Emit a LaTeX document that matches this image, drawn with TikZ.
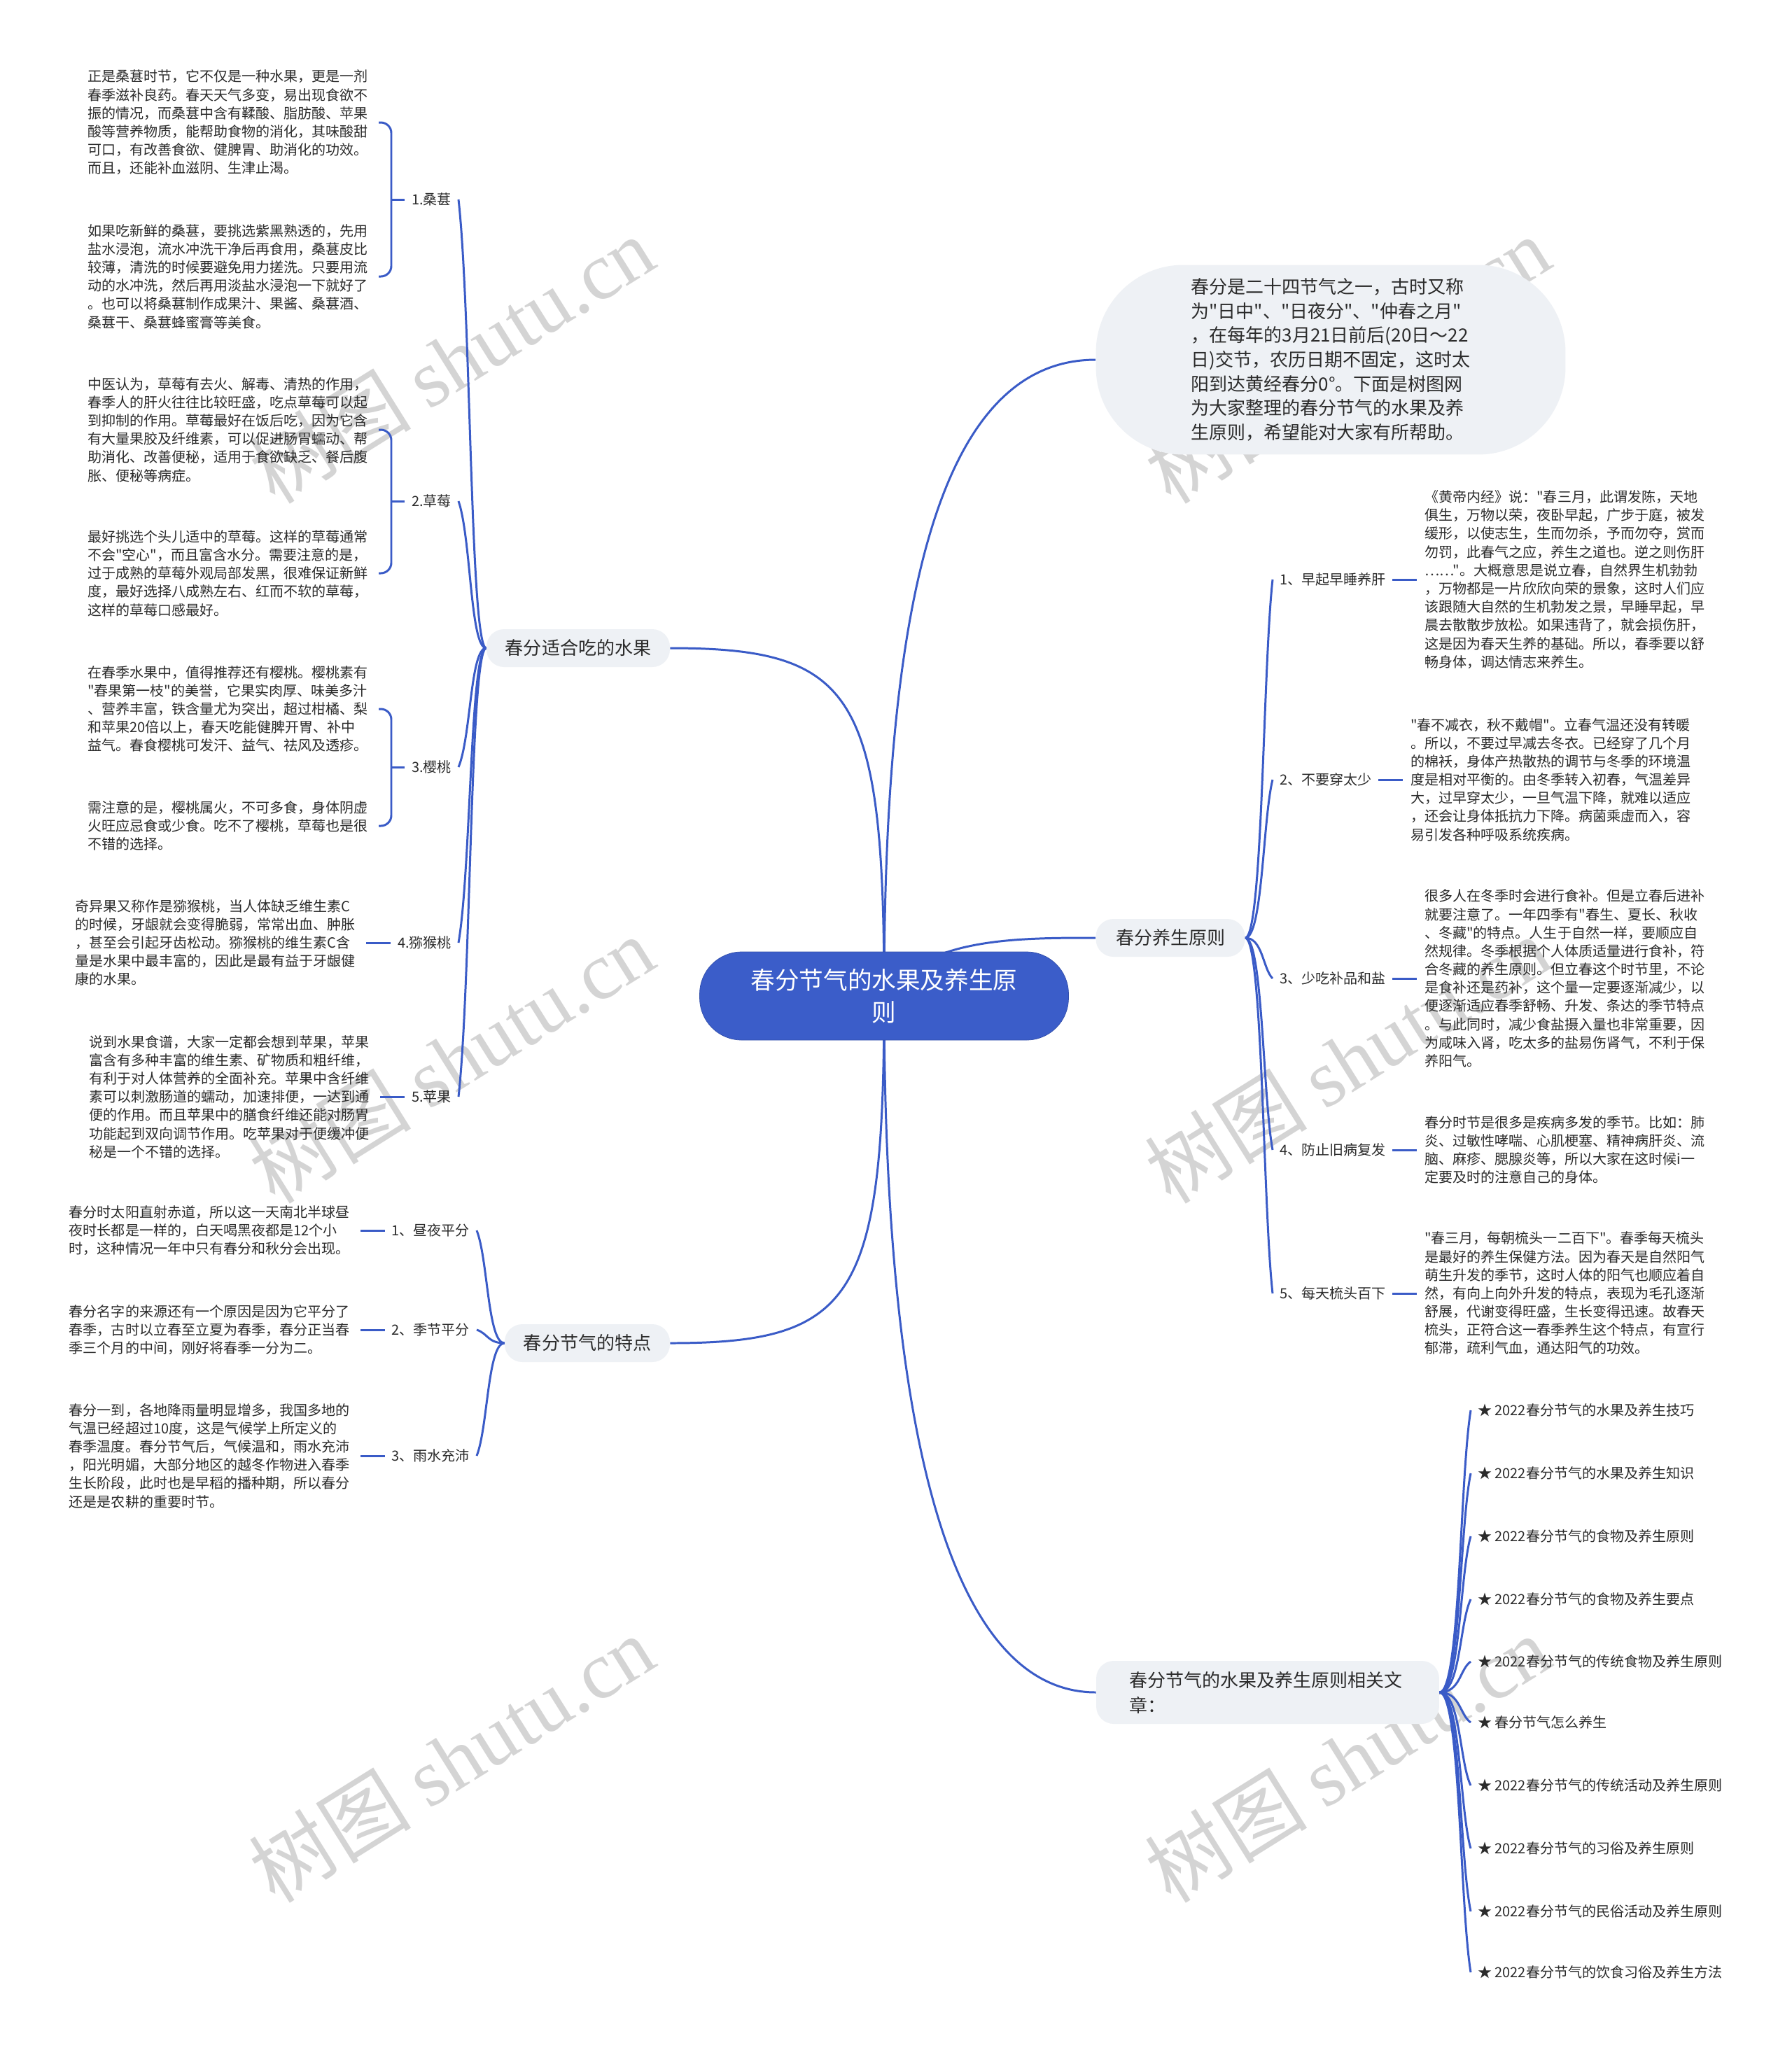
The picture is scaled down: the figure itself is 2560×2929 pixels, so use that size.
\documentclass[tikz,border=0pt]{standalone}
\usepackage{fontspec}
\setmainfont{Noto Sans CJK SC}[Ligatures=TeXOff]
\newfontfamily\wmfont{Liberation Serif}
\usetikzlibrary{positioning,backgrounds}
\definecolor{hubblue}{HTML}{3B5DC9}
\definecolor{linkblue}{HTML}{3A5BC7}
\definecolor{bubble}{HTML}{EEF1F5}
\definecolor{ink}{HTML}{2B2B2B}
\definecolor{wmgray}{HTML}{D4D4D4}
\newcommand{\setfs}[2]{\fontsize{#1}{#2}\selectfont}

\begin{document}
\begin{tikzpicture}[x=0.02cm,y=-0.02cm,
    hub/.style={fill=hubblue,draw=hubblue!85!black,text=white,rounded corners=1.2cm,minimum width=10.54cm,minimum height=2.52cm,align=center,font=\setfs{19.7pt}{26.5pt}},
    branch/.style={fill=bubble,text=ink,rounded corners=0.5cm,minimum height=1.08cm,font=\setfs{14.8pt}{20.5pt}},
    leaf/.style={text=ink,inner sep=5.5pt,font=\setfs{11.4pt}{14.9pt}},
    txt/.style={text=ink,inner sep=6pt,align=left,text width=8.1cm,font=\setfs{11.4pt}{14.9pt}},
    link/.style={draw=linkblue,line width=1.7pt},
    brace/.style={link,rounded corners=0.3cm},
    hook/.style n args={3}{to path={.. controls +(#1,0) and +(#2,#3) .. (\tikztotarget)}},
    wm/.style={text=wmgray,rotate=32,font=\setfs{66pt}{66pt}}]
\useasboundingbox (0,0) rectangle (2560,2929);

\node[hub] (hub) at (1263,1423) {春分节气的水果及养生原\\则};
\node[branch,minimum width=13.42cm,minimum height=5.42cm,rounded corners=2.5cm,align=left,font=\setfs{14.8pt}{19.7pt}] (intro) at (1901,514) {春分是二十四节气之一，古时又称\\为"日中"、"日夜分"、"仲春之月"\\，在每年的3月21日前后(20日～22\\日)交节，农历日期不固定，这时太\\阳到达黄经春分0°。下面是树图网\\为大家整理的春分节气的水果及养\\生原则，希望能对大家有所帮助。};
\node[branch,minimum width=5.24cm] (fruit) at (826,926) {春分适合吃的水果};
\node[branch,minimum width=4.72cm] (trait) at (839,1919) {春分节气的特点};
\node[branch,minimum width=4.26cm] (rule) at (1672,1340) {春分养生原则};
\node[branch,minimum height=1.8cm,inner xsep=0.94cm,text width=7.92cm,align=left] (refs) at (1811,2418) {春分节气的水果及养生原则相关文\\章：};

\node[leaf,anchor=east] (l1) at (655,285) {1.桑葚};
\node[leaf,anchor=east] (l2) at (655,716) {2.草莓};
\node[leaf,anchor=east] (l3) at (655,1096) {3.樱桃};
\node[leaf,anchor=east] (l4) at (655,1347) {4.猕猴桃};
\node[leaf,anchor=east] (l5) at (655,1567) {5.苹果};
\coordinate (k1) at (559,285);
\coordinate (k2) at (559,716);
\coordinate (k3) at (559,1096);

\node[txt,anchor=east] (a11) at (541,175) {正是桑葚时节，它不仅是一种水果，更是一剂\\春季滋补良药。春天天气多变，易出现食欲不\\振的情况，而桑葚中含有鞣酸、脂肪酸、苹果\\酸等营养物质，能帮助食物的消化，其味酸甜\\可口，有改善食欲、健脾胃、助消化的功效。\\而且，还能补血滋阴、生津止渴。};
\node[txt,anchor=east] (a12) at (541,395) {如果吃新鲜的桑葚，要挑选紫黑熟透的，先用\\盐水浸泡，流水冲洗干净后再食用，桑葚皮比\\较薄，清洗的时候要避免用力搓洗。只要用流\\动的水冲洗，然后再用淡盐水浸泡一下就好了\\。也可以将桑葚制作成果汁、果酱、桑葚酒、\\桑葚干、桑葚蜂蜜膏等美食。};
\node[txt,anchor=east] (a21) at (541,614) {中医认为，草莓有去火、解毒、清热的作用，\\春季人的肝火往往比较旺盛，吃点草莓可以起\\到抑制的作用。草莓最好在饭后吃，因为它含\\有大量果胶及纤维素，可以促进肠胃蠕动、帮\\助消化、改善便秘，适用于食欲缺乏、餐后腹\\胀、便秘等病症。};
\node[txt,anchor=east] (a22) at (541,819) {最好挑选个头儿适中的草莓。这样的草莓通常\\不会"空心"，而且富含水分。需要注意的是，\\过于成熟的草莓外观局部发黑，很难保证新鲜\\度，最好选择八成熟左右、红而不软的草莓，\\这样的草莓口感最好。};
\node[txt,anchor=east] (a31) at (541,1013) {在春季水果中，值得推荐还有樱桃。樱桃素有\\"春果第一枝"的美誉，它果实肉厚、味美多汁\\、营养丰富，铁含量尤为突出，超过柑橘、梨\\和苹果20倍以上，春天吃能健脾开胃、补中\\益气。春食樱桃可发汗、益气、祛风及透疹。};
\node[txt,anchor=east] (a32) at (541,1180) {需注意的是，樱桃属火，不可多食，身体阴虚\\火旺应忌食或少食。吃不了樱桃，草莓也是很\\不错的选择。};
\node[txt,left=0.7cm of l4] (a4) {奇异果又称作是猕猴桃，当人体缺乏维生素C\\的时候，牙龈就会变得脆弱，常常出血、肿胀\\，甚至会引起牙齿松动。猕猴桃的维生素C含\\量是水果中最丰富的，因此是最有益于牙龈健\\康的水果。};
\node[txt,left=0.7cm of l5] (a5) {说到水果食谱，大家一定都会想到苹果，苹果\\富含有多种丰富的维生素、矿物质和粗纤维，\\有利于对人体营养的全面补充。苹果中含纤维\\素可以刺激肠道的蠕动，加速排便，一达到通\\便的作用。而且苹果中的膳食纤维还能对肠胃\\功能起到双向调节作用。吃苹果对于便缓冲便\\秘是一个不错的选择。};

\node[leaf,anchor=east] (t1) at (681,1758) {1、昼夜平分};
\node[leaf,anchor=east] (t2) at (681,1900) {2、季节平分};
\node[leaf,anchor=east] (t3) at (681,2080) {3、雨水充沛};
\node[txt,left=0.7cm of t1] (b1) {春分时太阳直射赤道，所以这一天南北半球昼\\夜时长都是一样的，白天喝黑夜都是12个小\\时，这种情况一年中只有春分和秋分会出现。};
\node[txt,left=0.7cm of t2] (b2) {春分名字的来源还有一个原因是因为它平分了\\春季，古时以立春至立夏为春季，春分正当春\\季三个月的中间，刚好将春季一分为二。};
\node[txt,left=0.7cm of t3] (b3) {春分一到，各地降雨量明显增多，我国多地的\\气温已经超过10度，这是气候学上所定义的\\春季温度。春分节气后，气候温和，雨水充沛\\，阳光明媚，大部分地区的越冬作物进入春季\\生长阶段，此时也是早稻的播种期，所以春分\\还是是农耕的重要时节。};

\node[leaf,anchor=west] (y1) at (1818,828) {1、早起早睡养肝};
\node[leaf,anchor=west] (y2) at (1818,1114) {2、不要穿太少};
\node[leaf,anchor=west] (y3) at (1818,1398) {3、少吃补品和盐};
\node[leaf,anchor=west] (y4) at (1818,1643) {4、防止旧病复发};
\node[leaf,anchor=west] (y5) at (1818,1848) {5、每天梳头百下};
\node[txt,right=0.7cm of y1] (c1) {《黄帝内经》说："春三月，此谓发陈，天地\\俱生，万物以荣，夜卧早起，广步于庭，被发\\缓形，以使志生，生而勿杀，予而勿夺，赏而\\勿罚，此春气之应，养生之道也。逆之则伤肝\\……"。大概意思是说立春，自然界生机勃勃\\，万物都是一片欣欣向荣的景象，这时人们应\\该跟随大自然的生机勃发之景，早睡早起，早\\晨去散散步放松。如果违背了，就会损伤肝，\\这是因为春天生养的基础。所以，春季要以舒\\畅身体，调达情志来养生。};
\node[txt,right=0.7cm of y2] (c2) {"春不减衣，秋不戴帽"。立春气温还没有转暖\\。所以，不要过早减去冬衣。已经穿了几个月\\的棉袄，身体产热散热的调节与冬季的环境温\\度是相对平衡的。由冬季转入初春，气温差异\\大，过早穿太少，一旦气温下降，就难以适应\\，还会让身体抵抗力下降。病菌乘虚而入，容\\易引发各种呼吸系统疾病。};
\node[txt,right=0.7cm of y3] (c3) {很多人在冬季时会进行食补。但是立春后进补\\就要注意了。一年四季有"春生、夏长、秋收\\、冬藏"的特点。人生于自然一样，要顺应自\\然规律。冬季根据个人体质适量进行食补，符\\合冬藏的养生原则。但立春这个时节里，不论\\是食补还是药补，这个量一定要逐渐减少，以\\便逐渐适应春季舒畅、升发、条达的季节特点\\。与此同时，减少食盐摄入量也非常重要，因\\为咸味入肾，吃太多的盐易伤肾气，不利于保\\养阳气。};
\node[txt,right=0.7cm of y4] (c4) {春分时节是很多是疾病多发的季节。比如：肺\\炎、过敏性哮喘、心肌梗塞、精神病肝炎、流\\脑、麻疹、腮腺炎等，所以大家在这时候i一\\定要及时的注意自己的身体。};
\node[txt,right=0.7cm of y5] (c5) {"春三月，每朝梳头一二百下"。春季每天梳头\\是最好的养生保健方法。因为春天是自然阳气\\萌生升发的季节，这时人体的阳气也顺应着自\\然，有向上向外升发的特点，表现为毛孔逐渐\\舒展，代谢变得旺盛，生长变得迅速。故春天\\梳头，正符合这一春季养生这个特点，有宣行\\郁滞，疏利气血，通达阳气的功效。};

\node[leaf,anchor=west] (r1) at (2101,2015) {★ 2022春分节气的水果及养生技巧};
\node[leaf,anchor=west] (r2) at (2101,2105) {★ 2022春分节气的水果及养生知识};
\node[leaf,anchor=west] (r3) at (2101,2195) {★ 2022春分节气的食物及养生原则};
\node[leaf,anchor=west] (r4) at (2101,2285) {★ 2022春分节气的食物及养生要点};
\node[leaf,anchor=west] (r5) at (2101,2374) {★ 2022春分节气的传统食物及养生原则};
\node[leaf,anchor=west] (r6) at (2101,2461) {★ 春分节气怎么养生};
\node[leaf,anchor=west] (r7) at (2101,2551) {★ 2022春分节气的传统活动及养生原则};
\node[leaf,anchor=west] (r8) at (2101,2641) {★ 2022春分节气的习俗及养生原则};
\node[leaf,anchor=west] (r9) at (2101,2731) {★ 2022春分节气的民俗活动及养生原则};
\node[leaf,anchor=west] (r10) at (2101,2818) {★ 2022春分节气的饮食习俗及养生方法};

\begin{pgfonlayer}{background}
\fill[white] (0,0) rectangle (2560,2929);
\node[wm] (w1) at (645,514) {树图 {\wmfont shutu.cn}};
\node[wm] (w2) at (1925,514) {树图 {\wmfont shutu.cn}};
\node[wm] (w3) at (645,1514) {树图 {\wmfont shutu.cn}};
\node[wm] (w4) at (1925,1514) {树图 {\wmfont shutu.cn}};
\node[wm] (w5) at (645,2513) {树图 {\wmfont shutu.cn}};
\node[wm] (w6) at (1925,2513) {树图 {\wmfont shutu.cn}};

\draw[link] (hub.center) .. controls +(0,-433) and +(263,0) .. (fruit.east);
\draw[link] (hub.center) .. controls +(0,433) and +(263,0) .. (trait.east);
\draw[link] (hub.center) .. controls +(0,-523) and +(-236,0) .. (intro.west);
\draw[link] (hub.center) .. controls +(0,523) and +(-236,0) .. (refs.west);
\draw[link] (hub.center) .. controls +(57,-83) and +(-116,0) .. (rule.west);

\path[link]
  (fruit.west) edge[hook={-23}{18}{160}] (l1.east)
               edge[hook={-23}{18}{52}] (l2.east)
               edge[hook={-23}{18}{-43}] (l3.east)
               edge[hook={-23}{18}{-105}] (l4.east)
               edge[hook={-23}{18}{-160}] (l5.east)
  (trait.west) edge[hook={-24}{16}{40}] (t1.east)
               edge[hook={-24}{16}{5}] (t2.east)
               edge[hook={-24}{16}{-40}] (t3.east)
  (rule.east) edge[hook={25}{-14}{128}] (y1.west)
              edge[hook={25}{-14}{56}] (y2.west)
              edge[hook={25}{-14}{-14}] (y3.west)
              edge[hook={25}{-14}{-76}] (y4.west)
              edge[hook={25}{-14}{-127}] (y5.west)
  (refs.east) edge[hook={30}{-16}{101}] (r1.west)
              edge[hook={30}{-16}{78}] (r2.west)
              edge[hook={30}{-16}{56}] (r3.west)
              edge[hook={30}{-16}{33}] (r4.west)
              edge[hook={30}{-16}{11}] (r5.west)
              edge[hook={30}{-16}{-11}] (r6.west)
              edge[hook={30}{-16}{-33}] (r7.west)
              edge[hook={30}{-16}{-56}] (r8.west)
              edge[hook={30}{-16}{-78}] (r9.west)
              edge[hook={30}{-16}{-100}] (r10.west);

\path[link]
  (l1.west) edge (k1)
  (l2.west) edge (k2)
  (l3.west) edge (k3)
  (l4.west) edge (a4.east)
  (l5.west) edge (a5.east)
  (t1.west) edge (b1.east)
  (t2.west) edge (b2.east)
  (t3.west) edge (b3.east)
  (y1.east) edge (c1.west)
  (y2.east) edge (c2.west)
  (y3.east) edge (c3.west)
  (y4.east) edge (c4.west)
  (y5.east) edge (c5.west);
\draw[brace] (a11.east) -| (k1) |- (a12.east);
\draw[brace] (a21.east) -| (k2) |- (a22.east);
\draw[brace] (a31.east) -| (k3) |- (a32.east);
\end{pgfonlayer}
\end{tikzpicture}
\end{document}
